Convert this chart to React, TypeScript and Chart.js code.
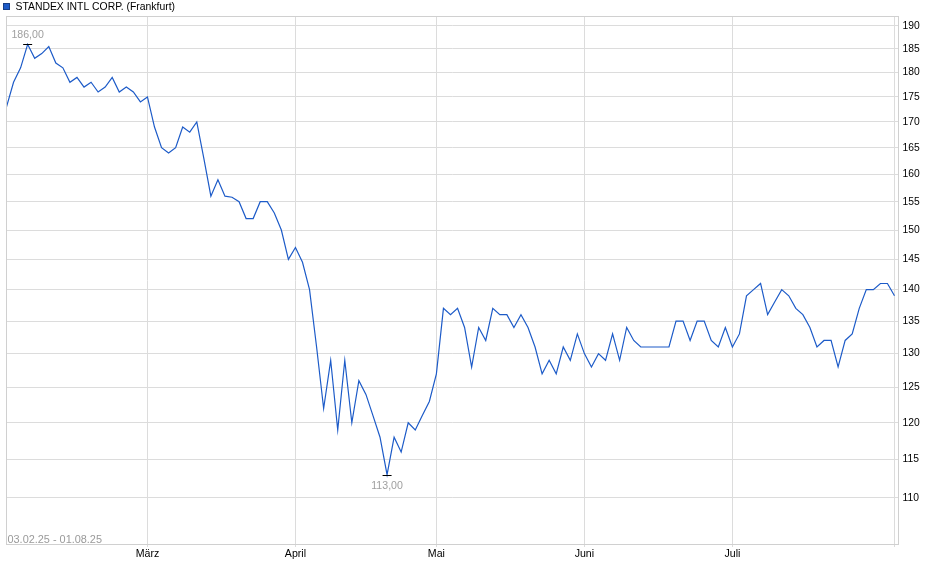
import { useEffect, useRef } from "react";
import { Chart, registerables } from "chart.js";

Chart.register(...registerables);

const seriesName = "STANDEX INTL CORP. (Frankfurt)";
const dateRange = "03.02.25 - 01.08.25";

// daily closing prices, 03.02.25 - 01.08.25 (trading days)
const febPrices = [173, 178, 181, 186, 183, 184, 185.5, 182, 181, 178, 179, 177, 178, 176, 177, 179, 176, 177, 176, 174];
const marPrices = [175, 169, 165, 164, 165, 169, 168, 170, 163, 156, 159, 156, 155.8, 155, 152, 152, 155, 155, 153, 150, 145];
const aprPrices = [147, 144.5, 140, 131, 122, 129, 119, 129, 120, 126, 124, 121, 118, 113, 118, 116, 120, 119, 121, 123];
const mayPrices = [127, 137, 136, 137, 134, 128, 134, 132, 137, 136, 136, 134, 136, 134, 131, 127, 129, 127, 131, 129, 133];
const junPrices = [130, 128, 130, 129, 133, 129, 134, 132, 131, 131, 131, 131, 131, 135, 135, 132, 135, 135, 132, 131, 134];
const julPrices = [131, 133, 139, 140, 141, 136, 138, 140, 139, 137, 136, 134, 131, 132, 132, 128, 132, 133, 137, 140, 140, 141, 141, 139];

const prices = [...febPrices, ...marPrices, ...aprPrices, ...mayPrices, ...junPrices, ...julPrices];

const monthTickIndex = [20, 41, 61, 82, 103, 126];
const monthLabels = ["März", "April", "Mai", "Juni", "Juli", ""];
const yTicks = [110, 115, 120, 125, 130, 135, 140, 145, 150, 155, 160, 165, 170, 175, 180, 185, 190];

const FONT = '"Liberation Sans", Arial, sans-serif';
const LINE_COLOR = "#1d5bc8";

const decor = {
  id: "decor",
  beforeDraw(chart: any) {
    const { ctx, width, height } = chart;
    ctx.save();
    ctx.fillStyle = "#ffffff";
    ctx.fillRect(0, 0, width, height);
    ctx.restore();
  },
  afterDraw(chart: any) {
    const { ctx, chartArea: a, scales } = chart;
    const x = scales.x;
    const y = scales.y;
    ctx.save();
    // plot border
    ctx.strokeStyle = "#d0d0d0";
    ctx.lineWidth = 1;
    const l = Math.round(a.left) - 0.5;
    const t = Math.round(a.top) + 0.5;
    const r = Math.round(a.right) - 0.5;
    const b = Math.round(a.bottom) - 0.5;
    ctx.strokeRect(l, t, r - l, b - t);

    // legend
    ctx.fillStyle = LINE_COLOR;
    ctx.fillRect(3, 3, 7, 7);
    ctx.strokeStyle = "#173e86";
    ctx.strokeRect(3.5, 3.5, 6, 6);
    ctx.fillStyle = "#000";
    ctx.font = `10.4px ${FONT}`;
    ctx.textBaseline = "middle";
    ctx.textAlign = "left";
    ctx.fillText(seriesName, 15.5, 7);

    // date range
    ctx.fillStyle = "#9a9a9a";
    ctx.font = `10.9px ${FONT}`;
    ctx.fillText(dateRange, a.left + 1, a.bottom - 5);

    // max / min markers
    const maxVal = Math.max(...prices);
    const minVal = Math.min(...prices);
    const maxIdx = prices.indexOf(maxVal);
    const minIdx = prices.indexOf(minVal);
    const fmt = (v: number) => v.toFixed(2).replace(".", ",");

    const drawMark = (idx: number, v: number, dy: number) => {
      const px = x.getPixelForValue(idx);
      const py = Math.round(y.getPixelForValue(v)) + 0.5;
      ctx.strokeStyle = "#000";
      ctx.lineWidth = 1;
      ctx.beginPath();
      ctx.moveTo(px - 4.5, py);
      ctx.lineTo(px + 4.5, py);
      ctx.stroke();
      ctx.fillStyle = "#a0a0a0";
      ctx.textAlign = "center";
      ctx.textBaseline = "middle";
      ctx.font = `10.6px ${FONT}`;
      ctx.fillText(fmt(v), px, py + dy);
    };
    drawMark(maxIdx, maxVal, -9);
    drawMark(minIdx, minVal, 10.5);
    ctx.restore();
  },
};

export default function App() {
  const ref = useRef<HTMLCanvasElement | null>(null);

  useEffect(() => {
    const canvas = ref.current;
    if (!canvas) return;
    const chart = new Chart(canvas, {
      type: "line",
      data: {
        datasets: [
          {
            label: seriesName,
            data: prices.map((v, i) => ({ x: i, y: v })),
            borderColor: LINE_COLOR,
            borderWidth: 1.2,
            pointRadius: 0,
            tension: 0,
            fill: false,
          },
        ],
      },
      options: {
        animation: false,
        responsive: false,
        maintainAspectRatio: false,
        layout: { padding: { left: 6.5, top: 16, right: 0, bottom: 0 } },
        plugins: {
          legend: { display: false },
          tooltip: { enabled: false },
          title: { display: false },
        },
        scales: {
          x: {
            type: "linear",
            position: "bottom",
            min: 0,
            max: 126.57,
            afterBuildTicks: (s: any) => {
              s.ticks = monthTickIndex.map((v) => ({ value: v }));
            },
            afterFit: (s: any) => {
              s.height = 34;
            },
            ticks: {
              autoSkip: false,
              maxRotation: 0,
              padding: 1,
              color: "#000",
              font: { family: FONT, size: 10.6 },
              callback: (_v: any, i: number) => monthLabels[i],
            },
            grid: { color: "#dcdcdc", lineWidth: 1, tickLength: 2, drawTicks: true },
            border: { display: false },
          },
          y: {
            type: "logarithmic",
            position: "right",
            min: 104.16,
            max: 192.19,
            afterBuildTicks: (s: any) => {
              s.ticks = yTicks.map((v) => ({ value: v }));
            },
            afterFit: (s: any) => {
              s.width = 41.5;
            },
            ticks: {
              autoSkip: false,
              padding: 4,
              color: "#000",
              font: { family: FONT, size: 10.3 },
              callback: (v: any) => String(v),
            },
            grid: { color: "#dcdcdc", lineWidth: 1, drawTicks: false },
            border: { display: false },
          },
        },
      },
      plugins: [decor],
    } as any);
    return () => chart.destroy();
  }, []);

  return (
    <div style={{ position: "absolute", left: 0, top: 0, width: 940, height: 579, background: "#fff" }}>
      <canvas ref={ref} width={940} height={579} style={{ width: 940, height: 579, display: "block" }} />
    </div>
  );
}
